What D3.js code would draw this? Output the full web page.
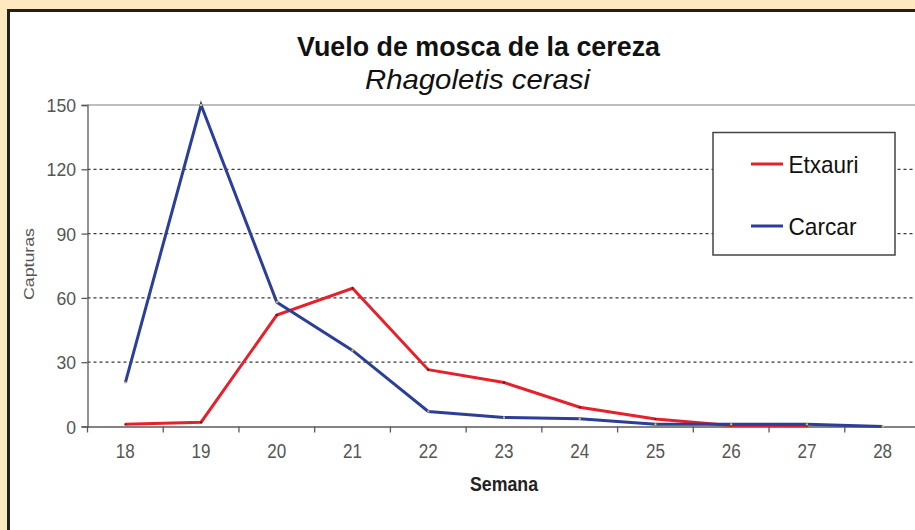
<!DOCTYPE html>
<html><head><meta charset="utf-8">
<script src="https://cdn.jsdelivr.net/npm/d3@7"></script>
<style>
html,body{margin:0;padding:0;background:#fee8bf;}
svg{display:block;font-family:Arial,"Liberation Sans",sans-serif;}
</style></head>
<body>
<svg id="c" width="915" height="530"></svg>
<script>
const weeks = ["18","19","20","21","22","23","24","25","26","27","28"];
const etxauri = [1, 2, 52, 64.5, 26.5, 20.5, 9, 3.5, 0.5, 0.4, null];
const carcar = [20.5, 150, 58, 35.5, 7, 4.2, 3.6, 1, 1, 1, 0];
const yTicks = [0, 30, 60, 90, 120, 150];
const seriesNames = ["Etxauri", "Carcar"];
const seriesColors = ["#e5222b", "#2b3e98"];
const title = "Vuelo de mosca de la cereza";
const subtitle = "Rhagoletis cerasi";

const svg = d3.select("#c");
// frame
svg.append("rect").attr("x",0).attr("y",0).attr("width",915).attr("height",530).attr("fill","#fee8bf");
svg.append("rect").attr("x",8.5).attr("y",10.5).attr("width",940).attr("height",560)
  .attr("fill","#ffffff").attr("stroke","#231f1c").attr("stroke-width",3);

const L = 87.5, R = 920.5, T = 105, B = 426.5;
const x = d3.scaleBand().domain(weeks).range([L, R]).padding(0);
const y = d3.scaleLinear().domain([0,150]).range([B, T]);
const cx = d => x(d) + x.bandwidth()/2;

function txt(g, s, opts){
  const t = g.append("text").text(s)
    .attr("font-size", opts.size)
    .attr("fill", opts.fill || "#111")
    .attr("text-anchor", opts.anchor || "middle");
  if (opts.weight) t.attr("font-weight", opts.weight);
  if (opts.style) t.attr("font-style", opts.style);
  if (opts.len) t.attr("textLength", opts.len).attr("lengthAdjust","spacingAndGlyphs");
  if (opts.transform) t.attr("transform", opts.transform);
  else t.attr("x", opts.x).attr("y", opts.y);
  return t;
}

// top/right border of plot area
svg.append("line").attr("x1",L).attr("x2",R).attr("y1",y(150)).attr("y2",y(150))
  .attr("stroke","#a8a8a8").attr("stroke-width",1.5);

// gridlines
svg.append("g").selectAll("line").data(yTicks.filter(v=>v>0 && v<150)).join("line")
  .attr("x1",L).attr("x2",R).attr("y1",d=>y(d)).attr("y2",d=>y(d))
  .attr("stroke","#3a3a3a").attr("stroke-width",1.3).attr("stroke-dasharray","3,3");

// y axis
const ya = svg.append("g").attr("transform",`translate(${L},0)`)
  .call(d3.axisLeft(y).tickValues(yTicks).tickSize(6).tickFormat(""));
ya.select(".domain").attr("stroke","#5a5a5a").attr("stroke-width",1.3);
ya.selectAll(".tick line").attr("stroke","#5a5a5a").attr("stroke-width",1.3);
const yl = svg.append("g");
yTicks.forEach(v=>{
  const s = String(v);
  txt(yl, s, {x:76, y:y(v)+7, size:19, fill:"#555", anchor:"end", len: s.length*9.8});
});

// x axis
const xa = svg.append("g").attr("transform",`translate(0,${B})`)
  .call(d3.axisBottom(x).tickSize(0).tickFormat(""));
xa.select(".domain").attr("stroke","#5a5a5a").attr("stroke-width",1.3);
svg.append("g").selectAll("line").data(weeks).join("line")
  .attr("x1",d=>x(d)).attr("x2",d=>x(d)).attr("y1",B).attr("y2",B+6)
  .attr("stroke","#5a5a5a").attr("stroke-width",1.3);
const xl = svg.append("g");
weeks.forEach(w=>{
  txt(xl, w, {x:cx(w), y:457.5, size:20, fill:"#555", len:19});
});

// lines
const line = d3.line().defined(d=>d.v!=null).x(d=>cx(d.w)).y(d=>y(d.v));
[etxauri, carcar].forEach((arr,i)=>{
  const data = weeks.map((w,j)=>({w, v: arr[j]}));
  svg.append("path").datum(data).attr("d",line).attr("fill","none")
    .attr("stroke",seriesColors[i]).attr("stroke-width",3).attr("stroke-linejoin","miter");
  svg.append("g").selectAll("rect").data(data.filter(d=>d.v!=null)).join("rect")
    .attr("x",d=>cx(d.w)-1).attr("y",d=>y(d.v)-1).attr("width",2).attr("height",2)
    .attr("fill", i===1 ? "#d8d040" : "#7a1010");
});

// titles
txt(svg, title, {x:478.5, y:56, size:27, weight:"bold", len:363});
txt(svg, subtitle, {x:477.5, y:89, size:28, style:"italic", len:225});

// axis titles
txt(svg, "Capturas", {transform:"translate(34,264) rotate(-90)", size:15, fill:"#555", len:72});
txt(svg, "Semana", {x:504, y:491, size:21, weight:"bold", fill:"#222", len:68});

// legend
const lg = svg.append("g");
lg.append("rect").attr("x",713).attr("y",132.5).attr("width",182).attr("height",122.5)
  .attr("fill","#fff").attr("stroke","#444").attr("stroke-width",1.5);
const legLens = [70, 68];
seriesNames.forEach((n,i)=>{
  const ly = 164 + i*62;
  lg.append("line").attr("x1",751).attr("x2",783).attr("y1",ly).attr("y2",ly)
    .attr("stroke",seriesColors[i]).attr("stroke-width",3);
  txt(lg, n, {x:788.5, y:ly+8.5, size:24, fill:"#111", anchor:"start", len:legLens[i]});
});
</script>
</body></html>
